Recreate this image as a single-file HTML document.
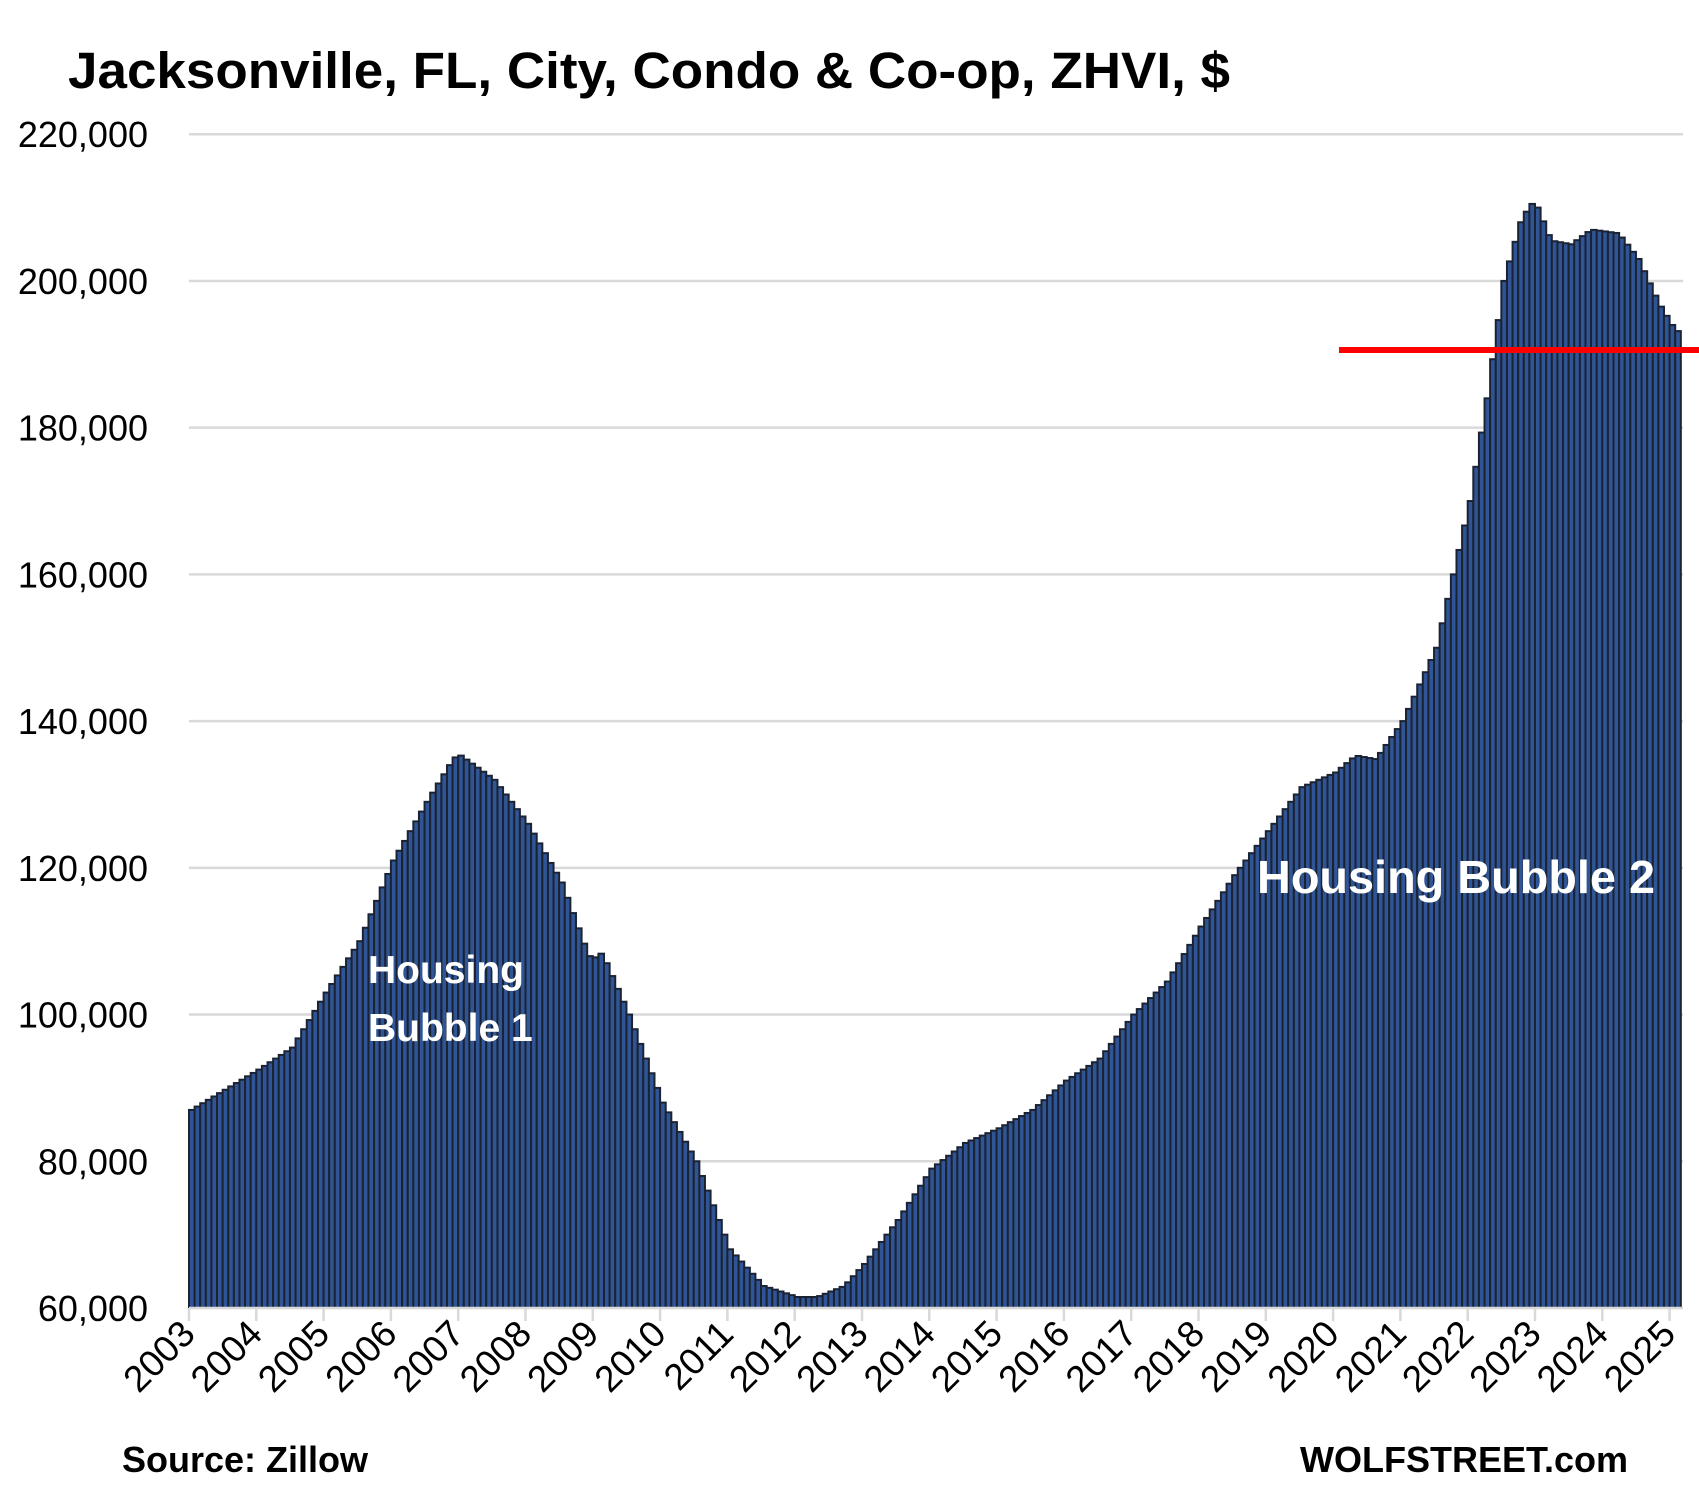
<!DOCTYPE html>
<html><head><meta charset="utf-8"><style>
html,body{margin:0;padding:0;background:#fff;}
svg{display:block;font-family:"Liberation Sans",sans-serif;}
</style></head><body>
<svg id="c" width="1699" height="1500" xmlns="http://www.w3.org/2000/svg">
<text x="68" y="88" font-size="51" font-weight="bold" fill="#000" textLength="1162" lengthAdjust="spacingAndGlyphs">Jacksonville, FL, City, Condo &amp; Co-op, ZHVI, $</text>
<g id="grid"></g>
<g id="bars"></g>
<g id="ticks"></g>
<line x1="1339" y1="350" x2="1699" y2="350" stroke="#ff0000" stroke-width="6"/>
<text x="368" y="983" font-size="39" font-weight="bold" fill="#fff">Housing</text>
<text x="368" y="1041" font-size="39" font-weight="bold" fill="#fff">Bubble 1</text>
<text x="1257" y="893" font-size="46" font-weight="bold" fill="#fff" textLength="398" lengthAdjust="spacingAndGlyphs">Housing Bubble 2</text>
<text x="122" y="1472" font-size="36" font-weight="bold" fill="#000">Source: Zillow</text>
<text x="1628" y="1472" font-size="36" font-weight="bold" fill="#000" text-anchor="end">WOLFSTREET.com</text>
</svg>
<script>
var NS="http://www.w3.org/2000/svg";
function el(t,a,p){var e=document.createElementNS(NS,t);for(var k in a)e.setAttribute(k,a[k]);if(p)p.appendChild(e);return e;}
var y0=1308, ppk=7.336, x0=189, yw=67.3;
function Y(v){return y0-(v-60000)/1000*ppk;}
var g=document.getElementById('grid');
for(var v=60000;v<=220000;v+=20000){
  var y=Y(v);
  el('line',{x1:x0,x2:1683,y1:y,y2:y,stroke:'#d9d9d9','stroke-width':2.5},g);
  var t=el('text',{x:148,y:y+13,'font-size':36,'text-anchor':'end',fill:'#000'},g);
  t.textContent=v.toLocaleString('en-US');
}
var kp=[[2003.0,87],[2004.0,92.5],[2004.5,95.5],[2005.0,103],[2005.5,110],[2006.0,121],[2006.5,129],[2006.9,135],[2007.0,135.3],[2007.5,132],[2008.0,126],[2008.5,118],[2008.9,108],[2009.0,107.8],[2009.1,108.4],[2009.5,100],[2010.0,88],[2010.5,80],[2011.0,68],[2011.5,63],[2012.0,61.5],[2012.3,61.5],[2012.7,63],[2013.0,66],[2013.5,72],[2014.0,79],[2014.5,82.5],[2015.0,84.5],[2015.5,87],[2016.0,91],[2016.5,94],[2017.0,100],[2017.5,104.5],[2018.0,112],[2018.5,119],[2019.0,125],[2019.5,131],[2020.0,133],[2020.3,135.3],[2020.6,134.8],[2021.0,140],[2021.5,150],[2022.0,170],[2022.25,184],[2022.5,200],[2022.75,208],[2022.9,210.6],[2023.0,210],[2023.2,205.5],[2023.5,205],[2023.8,207],[2024.2,206.5],[2024.5,203],[2024.8,197],[2025.0,194],[2025.2,192]];
function val(t){for(var i=0;i<kp.length-1;i++){if(t<=kp[i+1][0]){var a=kp[i],b=kp[i+1];return (a[1]+(b[1]-a[1])*(t-a[0])/(b[0]-a[0]))*1000;}}return kp[kp.length-1][1]*1000;}
var b=document.getElementById('bars'), bw=yw/12, n=266;
for(var i=0;i<n;i++){
  var t=2003+i/12, x=x0+i*bw, y=Y(val(t));
  el('rect',{x:x.toFixed(2),y:y.toFixed(2),width:bw.toFixed(2),height:(y0-y).toFixed(2),fill:'#2f5597',stroke:'#1b2333','stroke-width':2},b);
}
var tk=document.getElementById('ticks');
el('line',{x1:x0,x2:1683,y1:y0,y2:y0,stroke:'#d9d9d9','stroke-width':2.5},tk);
for(var k=0;k<=22;k++){
  var x=x0+k*yw;
  el('line',{x1:x,x2:x,y1:y0,y2:y0+13,stroke:'#d9d9d9','stroke-width':2.5},tk);
  var tx=el('text',{x:x+8,y:y0+28,'font-size':37,'text-anchor':'end',fill:'#000',transform:'rotate(-45 '+(x+8)+' '+(y0+28)+')'},tk);
  tx.textContent=2003+k;
}
</script>
</body></html>
